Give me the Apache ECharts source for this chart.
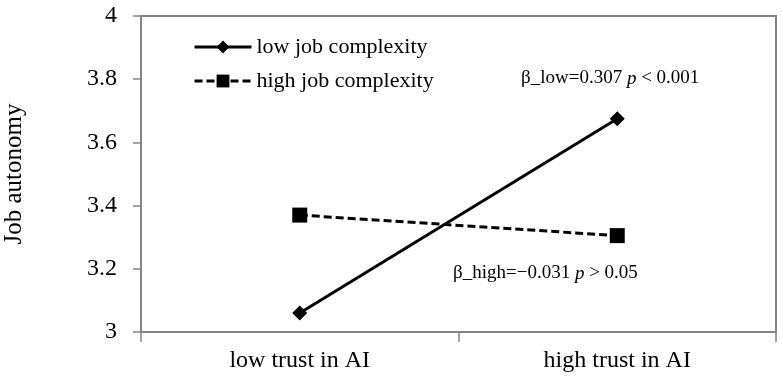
<!DOCTYPE html>
<html>
<head>
<meta charset="utf-8">
<script src="https://cdn.jsdelivr.net/npm/echarts@6/dist/echarts.min.js"></script>
<style>
  html, body { margin: 0; padding: 0; background: #fff; }
  #main { width: 782px; height: 383px; }
</style>
</head>
<body>
<div id="main"></div>
<script>
// data
const categories = ['low trust in AI', 'high trust in AI'];
const lowComplexity = [3.06, 3.675];
const highComplexity = [3.37, 3.305];
const seriesNames = ['low job complexity', 'high job complexity'];
const yTicks = { min: 3, max: 4, interval: 0.2 };

const FONT = '"Liberation Serif", "DejaVu Serif", serif';
const AXIS_GRAY = '#858585';

const chart = echarts.init(document.getElementById('main'));

chart.setOption({
  animation: false,
  backgroundColor: '#fff',
  textStyle: { fontFamily: FONT, color: '#000' },
  grid: {
    left: 141, right: 6, top: 16, bottom: 51,
    outerBoundsMode: 'none',
    containLabel: false,
    show: true, borderColor: AXIS_GRAY, borderWidth: 2
  },
  legend: {
    orient: 'vertical',
    left: 193, top: 36,
    padding: 0,
    itemWidth: 57, itemHeight: 16,
    itemGap: 12,
    lineStyle: { width: 3 },
    textStyle: { fontFamily: FONT, fontSize: 22, color: '#000' },
    data: seriesNames
  },
  xAxis: {
    type: 'category',
    data: categories,
    boundaryGap: true,
    axisLine: { lineStyle: { color: AXIS_GRAY, width: 2 } },
    axisTick: { show: true, length: 10, lineStyle: { color: AXIS_GRAY, width: 1.5 } },
    axisLabel: { fontFamily: FONT, fontSize: 24, color: '#000', margin: 17 }
  },
  yAxis: {
    type: 'value',
    min: yTicks.min, max: yTicks.max, interval: yTicks.interval,
    name: 'Job autonomy',
    nameLocation: 'middle',
    nameGap: 114,
    nameRotate: 90,
    nameTextStyle: { fontFamily: FONT, fontSize: 25, color: '#000' },
    splitLine: { show: false },
    axisLine: { show: true, lineStyle: { color: AXIS_GRAY, width: 2 } },
    axisTick: { show: true, length: 8, lineStyle: { color: AXIS_GRAY, width: 1.5 } },
    axisLabel: {
      fontFamily: FONT, fontSize: 24, color: '#000', margin: 24,
      formatter: v => String(Math.round(v * 10) / 10)
    }
  },
  series: [
    {
      name: seriesNames[0],
      type: 'line',
      data: lowComplexity,
      symbol: 'diamond',
      symbolSize: 15,
      itemStyle: { color: '#000' },
      lineStyle: { color: '#000', width: 3 }
    },
    {
      name: seriesNames[1],
      type: 'line',
      data: highComplexity,
      symbol: 'rect',
      symbolSize: 15,
      itemStyle: { color: '#000' },
      lineStyle: { color: '#000', width: 3, type: [8, 4] }
    }
  ],
  graphic: [
    {
      type: 'text', left: 521, top: 69,
      style: {
        text: 'β_low=0.307 {i|p} < 0.001',
        font: '19px ' + FONT, fill: '#000',
        rich: { i: { fontStyle: 'italic', fontFamily: FONT, fontSize: 19 } }
      }
    },
    {
      type: 'text', left: 453, top: 264,
      style: {
        text: 'β_high=−0.031 {i|p} > 0.05',
        font: '19px ' + FONT, fill: '#000',
        rich: { i: { fontStyle: 'italic', fontFamily: FONT, fontSize: 19 } }
      }
    }
  ]
});
</script>
</body>
</html>
